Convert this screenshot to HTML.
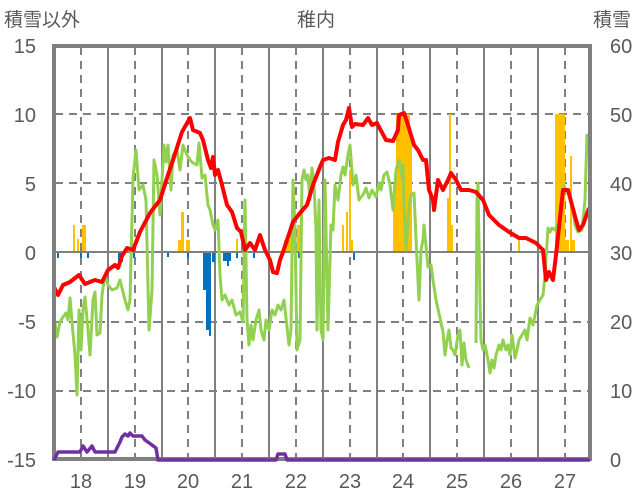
<!DOCTYPE html>
<html><head><meta charset="utf-8"><style>
body{margin:0;background:#fff}
svg{display:block}
text{font-family:"Liberation Sans","Noto Sans CJK JP",sans-serif;fill:#595959}
</style></head><body>
<svg width="636" height="501" viewBox="0 0 636 501" xmlns="http://www.w3.org/2000/svg">
<rect width="636" height="501" fill="#fff"/>
<g stroke="#808080" stroke-width="2" stroke-dasharray="8,6">
<line x1="55" y1="114" x2="589" y2="114"/><line x1="55" y1="183" x2="589" y2="183"/>
<line x1="55" y1="322" x2="589" y2="322"/><line x1="55" y1="391" x2="589" y2="391"/>
<line x1="81" y1="47" x2="81" y2="458"/><line x1="135" y1="47" x2="135" y2="458"/>
<line x1="188" y1="47" x2="188" y2="458"/><line x1="242" y1="47" x2="242" y2="458"/>
<line x1="296" y1="47" x2="296" y2="458"/><line x1="350" y1="47" x2="350" y2="458"/>
<line x1="403" y1="47" x2="403" y2="458"/><line x1="457" y1="47" x2="457" y2="458"/>
<line x1="511" y1="47" x2="511" y2="458"/><line x1="565" y1="47" x2="565" y2="458"/>
</g>
<g stroke="#808080" stroke-width="2">
<line x1="108" y1="47" x2="108" y2="458"/><line x1="162" y1="47" x2="162" y2="458"/>
<line x1="215" y1="47" x2="215" y2="458"/><line x1="269" y1="47" x2="269" y2="458"/>
<line x1="323" y1="47" x2="323" y2="458"/><line x1="377" y1="47" x2="377" y2="458"/>
<line x1="430" y1="47" x2="430" y2="458"/><line x1="484" y1="47" x2="484" y2="458"/>
<line x1="538" y1="47" x2="538" y2="458"/>
</g>
<g fill="#FFC000">
<rect x="73" y="225" width="2" height="27"/><rect x="77" y="239" width="2" height="13"/><rect x="82" y="225" width="4" height="27"/>
<rect x="178" y="240" width="4" height="12"/><rect x="181" y="212" width="3" height="40"/><rect x="186" y="240" width="4" height="12"/>
<rect x="236" y="239" width="2" height="13"/>
<rect x="284" y="240" width="6" height="12"/><rect x="290" y="225" width="5" height="27"/><rect x="297" y="225" width="3" height="27"/>
<rect x="342" y="225" width="2" height="27"/><rect x="346" y="212" width="2" height="40"/><rect x="349" y="170" width="2" height="82"/><rect x="351" y="240" width="2" height="12"/>
<rect x="393" y="185" width="3" height="67"/><rect x="396" y="114" width="14" height="138"/><rect x="410" y="140" width="2" height="112"/>
<rect x="447" y="198" width="2" height="54"/><rect x="449" y="114" width="2" height="138"/><rect x="451" y="225" width="2" height="27"/>
<rect x="518" y="240" width="2" height="12"/>
<rect x="555" y="114" width="10" height="138"/><rect x="565" y="240" width="4" height="12"/><rect x="570" y="156" width="2" height="96"/><rect x="572" y="240" width="3" height="12"/>
</g>
<g fill="#0070C0">
<rect x="57" y="252" width="2" height="6"/><rect x="80" y="252" width="2" height="6"/><rect x="87" y="252" width="2" height="6"/>
<rect x="118" y="252" width="5" height="10"/><rect x="133" y="252" width="2" height="6"/><rect x="167" y="252" width="2" height="5"/>
<rect x="187" y="252" width="2" height="6"/><rect x="203" y="252" width="3" height="38"/><rect x="206" y="252" width="3" height="78"/>
<rect x="209" y="252" width="2" height="84"/><rect x="212" y="252" width="3" height="10"/>
<rect x="223" y="252" width="8" height="9"/><rect x="227" y="252" width="2" height="14"/><rect x="236" y="252" width="2" height="6"/>
<rect x="245" y="252" width="2" height="6"/><rect x="253" y="252" width="2" height="6"/><rect x="298" y="252" width="2" height="6"/><rect x="353" y="252" width="2" height="8"/>
</g>
<line x1="55" y1="252" x2="589" y2="252" stroke="#808080" stroke-width="2"/>
<polyline fill="none" stroke="#92D050" stroke-width="3" stroke-linejoin="round" points="54,316 57,337 60,322 63,317 66,313 68,320 70,298 72,322 75,355 77,395 79,310 81,350 83,310 85,297 88,330 90,355 93,300 95,292 97,335 100,333 102,295 105,275 108,285 112,290 117,288 120,280 125,300 128,310 130,300 133,178 136,150 139,190 143,185 146,200 149,330 152,290 154,160 157,175 160,215 162,180 164,145 166,162 168,145 171,190 173,155 177,150 180,170 183,145 187,155 190,160 193,163 197,165 199,143 202,178 205,175 208,205 210,210 213,225 215,230 218,220 220,275 222,300 225,295 229,305 232,300 236,315 240,312 243,322 245,200 247,320 249,345 251,325 253,340 256,320 259,310 261,330 264,340 266,320 269,330 272,310 275,315 278,305 281,310 284,300 289,345 291,330 293,180 295,230 297,350 300,340 302,180 304,170 306,180 308,175 310,200 312,168 314,185 316,230 317,330 319,200 321,330 323,340 325,180 328,330 331,225 333,230 335,185 338,200 341,175 343,167 345,175 348,155 350,145 353,185 356,175 359,200 361,197 363,195 366,188 369,198 372,190 376,197 379,183 381,190 384,175 387,172 390,185 393,210 396,170 399,160 402,177 403,165 404,205 406,250 409,205 411,195 414,193 417,260 419,300 421,250 423,240 424,225 428,267 431,265 433,280 436,300 440,318 443,332 445,355 447,340 449,330 451,348 453,350 455,355 458,335 460,330 462,365 464,343 466,360 469,368"/>
<polyline fill="none" stroke="#92D050" stroke-width="3" stroke-linejoin="round" points="476,343 477,200 478,183 480,300 481,340 483,350 485,345 488,360 490,373 492,360 494,368 496,355 499,345 501,350 503,340 506,350 508,345 510,355 512,335 515,358 517,350 519,340 522,335 525,330 527,340 530,318 533,325 537,305 540,300 543,295 545,275 548,228 550,232 552,228 555,230 557,225 560,224 562,200 564,185 566,192 568,190 570,195 573,210 575,225 578,232 582,230 585,200 587,135 589,150 590,140"/>
<polyline fill="none" stroke="#FF0000" stroke-width="4" stroke-linejoin="round" points="54,287 58,295 63,285 70,282 79,275 85,284 95,280 102,282 108,270 115,265 118,268 122,256 127,248 133,250 140,232 150,213 160,200 167,178 173,160 182,132 190,118 193,130 200,133 203,140 208,160 211,168 213,157 215,175 218,170 222,185 227,205 232,212 237,228 241,232 245,250 250,243 255,250 260,235 265,250 270,260 273,272 277,273 280,260 283,252 287,240 293,222 300,213 307,205 313,185 320,167 323,160 329,158 335,160 338,142 343,125 346,120 349,108 352,127 355,124 363,125 368,118 372,125 377,123 379,127 386,140 393,141 398,130 399,115 404,113 408,125 414,145 418,150 423,160 426,160 429,190 433,200 434,210 438,180 443,190 448,180 451,173 456,180 461,190 469,190 476,192 483,200 489,215 499,225 509,232 519,238 526,238 536,243 543,250 546,280 549,272 553,280 556,255 563,190 568,190 576,220 579,230 583,225 589,208"/>
<rect x="54" y="46" width="536" height="413" fill="none" stroke="#808080" stroke-width="4"/>
<polyline fill="none" stroke="#7030A0" stroke-width="3.5" stroke-linejoin="round" points="54,460 58,452 80,452 83,446 87,452 92,446 95,452 115,452 120,442 122,437 125,434 128,436 130,433 133,436 142,436 145,440 152,445 156,448 158,460 276,460 278,454 285,454 287,460 590,460"/>
<g font-size="19">
<text x="4" y="26">積雪以外</text>
<text x="316" y="26" text-anchor="middle">稚内</text>
<text x="631" y="26" text-anchor="end">積雪</text>
</g>
<g font-size="20" text-anchor="end">
<text x="36" y="53">15</text><text x="36" y="122">10</text><text x="36" y="191">5</text>
<text x="36" y="260">0</text><text x="36" y="329">-5</text><text x="36" y="398">-10</text><text x="36" y="467">-15</text>
</g>
<g font-size="20">
<text x="610" y="53">60</text><text x="610" y="122">50</text><text x="610" y="191">40</text>
<text x="610" y="260">30</text><text x="610" y="329">20</text><text x="610" y="398">10</text><text x="610" y="467">0</text>
</g>
<g font-size="20" text-anchor="middle">
<text x="81" y="488">18</text><text x="135" y="488">19</text><text x="188" y="488">20</text><text x="242" y="488">21</text>
<text x="296" y="488">22</text><text x="350" y="488">23</text><text x="403" y="488">24</text><text x="457" y="488">25</text>
<text x="511" y="488">26</text><text x="565" y="488">27</text>
</g>
</svg>
</body></html>
